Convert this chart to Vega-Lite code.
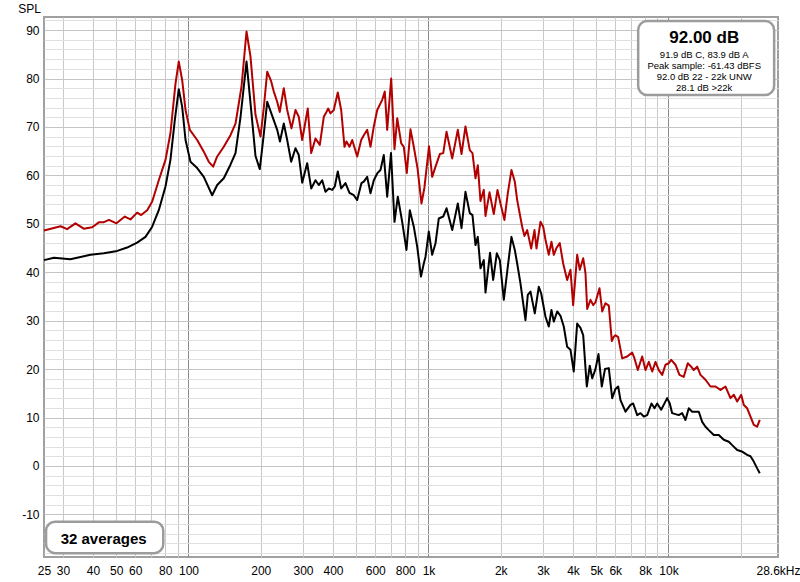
{
"$schema": "https://vega.github.io/schema/vega-lite/v6.json",
"width": 734, "height": 540,
"autosize": {"type": "none"},
"padding": {"left": 44, "top": 17, "right": 22, "bottom": 25},
"background": "white",
"config": {"view": {"stroke": "#a0a0a0", "strokeWidth": 2}, "font": "Liberation Sans"},
"datasets": {
"red": [
{"f":25,"spl":48.6},{"f":29.3,"spl":49.5},{"f":31.2,"spl":48.9},{"f":33.8,"spl":50.1},{"f":36.6,"spl":49.0},{"f":39.7,"spl":49.3},{"f":42.3,"spl":50.3},{"f":44.2,"spl":50.3},{"f":46.6,"spl":50.8},{"f":50.1,"spl":50.1},{"f":54.3,"spl":51.5},{"f":57.3,"spl":50.9},{"f":61.1,"spl":52.3},{"f":63.5,"spl":51.8},{"f":67.3,"spl":52.8},{"f":70.6,"spl":54.6},{"f":75.2,"spl":59.0},{"f":80.2,"spl":63.2},{"f":84.1,"spl":68.7},{"f":88.3,"spl":79.0},{"f":91.1,"spl":83.5},{"f":94.1,"spl":79.7},{"f":97.2,"spl":73.5},{"f":101.3,"spl":69.4},{"f":108.7,"spl":67.3},{"f":115.8,"spl":64.9},{"f":121.5,"spl":62.8},{"f":126.7,"spl":61.8},{"f":131.7,"spl":63.9},{"f":140.3,"spl":65.9},{"f":149.6,"spl":68.3},{"f":157.0,"spl":70.7},{"f":166.3,"spl":78.3},{"f":174.5,"spl":89.7},{"f":181.3,"spl":84.5},{"f":190.2,"spl":72.5},{"f":199.5,"spl":68.0},{"f":206.0,"spl":74.0},{"f":212.8,"spl":81.4},{"f":221.1,"spl":79.4},{"f":226.7,"spl":77.3},{"f":234.2,"spl":75.2},{"f":240.1,"spl":73.1},{"f":249.5,"spl":78.0},{"f":257.8,"spl":73.5},{"f":268.6,"spl":69.7},{"f":279.1,"spl":73.5},{"f":288.1,"spl":72.1},{"f":297.7,"spl":67.3},{"f":314.1,"spl":73.8},{"f":324.6,"spl":64.6},{"f":338.2,"spl":67.6},{"f":352.5,"spl":66.3},{"f":366.3,"spl":72.1},{"f":375.8,"spl":73.1},{"f":382.0,"spl":73.8},{"f":390.5,"spl":72.8},{"f":403.1,"spl":73.5},{"f":418.9,"spl":77.1},{"f":432.8,"spl":73.5},{"f":446.7,"spl":65.9},{"f":455.3,"spl":67.0},{"f":468.6,"spl":65.9},{"f":481.0,"spl":67.3},{"f":504.6,"spl":63.9},{"f":524.4,"spl":67.3},{"f":537.6,"spl":68.3},{"f":555.5,"spl":69.4},{"f":573.3,"spl":65.9},{"f":591.8,"spl":70.1},{"f":611.5,"spl":73.5},{"f":641.5,"spl":75.6},{"f":657.6,"spl":77.3},{"f":672.9,"spl":69.4},{"f":699.3,"spl":80.0},{"f":721.8,"spl":65.4},{"f":740.8,"spl":71.8},{"f":769.8,"spl":66.6},{"f":789.2,"spl":65.9},{"f":812.3,"spl":60.5},{"f":841.4,"spl":69.5},{"f":868.5,"spl":65.9},{"f":900,"spl":61.5},{"f":935,"spl":54.2},{"f":962,"spl":57.5},{"f":1005,"spl":66.0},{"f":1036,"spl":59.7},{"f":1070,"spl":61.8},{"f":1115,"spl":64.4},{"f":1152,"spl":64.6},{"f":1189,"spl":69.0},{"f":1256,"spl":63.5},{"f":1325,"spl":69.4},{"f":1373,"spl":64.4},{"f":1426,"spl":70.1},{"f":1486,"spl":65.2},{"f":1525,"spl":64.6},{"f":1570,"spl":59.4},{"f":1605,"spl":62.1},{"f":1647,"spl":54.7},{"f":1700,"spl":57.0},{"f":1728,"spl":51.6},{"f":1796,"spl":56.5},{"f":1871,"spl":52.0},{"f":1939,"spl":57.0},{"f":1995,"spl":54.2},{"f":2073,"spl":50.8},{"f":2140,"spl":56.3},{"f":2217,"spl":61.1},{"f":2289,"spl":58.7},{"f":2342,"spl":54.9},{"f":2457,"spl":49.4},{"f":2512,"spl":47.5},{"f":2578,"spl":48.7},{"f":2679,"spl":44.9},{"f":2765,"spl":48.7},{"f":2818,"spl":44.9},{"f":2929,"spl":50.4},{"f":3006,"spl":49.4},{"f":3073,"spl":46.7},{"f":3171,"spl":43.6},{"f":3254,"spl":46.3},{"f":3327,"spl":43.6},{"f":3414,"spl":45.0},{"f":3524,"spl":46.0},{"f":3641,"spl":41.8},{"f":3783,"spl":38.4},{"f":3905,"spl":40.5},{"f":4007,"spl":33.2},{"f":4164,"spl":43.6},{"f":4270,"spl":40.5},{"f":4412,"spl":42.9},{"f":4510,"spl":39.8},{"f":4585,"spl":32.4},{"f":4732,"spl":34.3},{"f":4857,"spl":33.2},{"f":4964,"spl":33.8},{"f":5158,"spl":36.7},{"f":5295,"spl":31.9},{"f":5465,"spl":33.6},{"f":5641,"spl":33.1},{"f":5805,"spl":25.8},{"f":5918,"spl":26.7},{"f":6015,"spl":27.0},{"f":6172,"spl":26.6},{"f":6415,"spl":22.2},{"f":6730,"spl":22.6},{"f":7062,"spl":23.4},{"f":7218,"spl":22.2},{"f":7450,"spl":19.8},{"f":7770,"spl":22.6},{"f":8021,"spl":19.8},{"f":8280,"spl":21.5},{"f":8555,"spl":19.5},{"f":8830,"spl":21.5},{"f":9114,"spl":19.8},{"f":9414,"spl":18.8},{"f":9716,"spl":20.9},{"f":10030,"spl":21.2},{"f":10264,"spl":21.9},{"f":10694,"spl":20.9},{"f":11112,"spl":18.8},{"f":11580,"spl":18.4},{"f":12034,"spl":21.2},{"f":12434,"spl":20.5},{"f":12747,"spl":19.8},{"f":13170,"spl":20.5},{"f":13594,"spl":18.8},{"f":14264,"spl":17.8},{"f":14962,"spl":16.4},{"f":15697,"spl":16.4},{"f":16470,"spl":15.7},{"f":17280,"spl":16.4},{"f":18130,"spl":14.0},{"f":18714,"spl":14.7},{"f":19336,"spl":13.3},{"f":20090,"spl":14.7},{"f":20600,"spl":12.6},{"f":21280,"spl":11.9},{"f":21966,"spl":10.2},{"f":22670,"spl":8.5},{"f":23420,"spl":8.1},{"f":24010,"spl":9.5}
],
"black": [
{"f":25,"spl":42.5},{"f":27.5,"spl":43.0},{"f":32.2,"spl":42.7},{"f":39.05,"spl":43.6},{"f":44.4,"spl":43.9},{"f":50.5,"spl":44.4},{"f":55.5,"spl":45.1},{"f":61.1,"spl":46.1},{"f":66.2,"spl":47.3},{"f":70.6,"spl":49.4},{"f":75.2,"spl":52.8},{"f":80.2,"spl":57.7},{"f":84.1,"spl":63.2},{"f":87.7,"spl":71.4},{"f":91.1,"spl":77.8},{"f":94.1,"spl":74.2},{"f":97.2,"spl":67.3},{"f":101.9,"spl":62.8},{"f":108.7,"spl":61.5},{"f":115.8,"spl":59.7},{"f":125.5,"spl":55.9},{"f":131.7,"spl":58.0},{"f":140.3,"spl":59.4},{"f":149.6,"spl":62.2},{"f":157.0,"spl":64.6},{"f":164.7,"spl":72.0},{"f":174.5,"spl":83.5},{"f":181.3,"spl":74.9},{"f":190.2,"spl":64.0},{"f":198.2,"spl":61.3},{"f":205.4,"spl":68.0},{"f":212.8,"spl":75.2},{"f":223.3,"spl":72.3},{"f":234.2,"spl":69.4},{"f":240.5,"spl":67.0},{"f":249.5,"spl":70.7},{"f":257.8,"spl":67.3},{"f":267.9,"spl":62.8},{"f":279.1,"spl":65.6},{"f":288.1,"spl":64.2},{"f":297.7,"spl":58.5},{"f":312.3,"spl":62.5},{"f":324.6,"spl":57.3},{"f":338.2,"spl":59.0},{"f":349.1,"spl":58.0},{"f":360.7,"spl":59.0},{"f":372.2,"spl":56.6},{"f":384.2,"spl":57.3},{"f":396.9,"spl":57.0},{"f":407.0,"spl":57.7},{"f":418.9,"spl":60.8},{"f":432.8,"spl":57.3},{"f":451.0,"spl":58.4},{"f":468.6,"spl":56.4},{"f":488.5,"spl":55.9},{"f":504.6,"spl":54.9},{"f":525.8,"spl":58.4},{"f":537.6,"spl":58.7},{"f":555.5,"spl":59.7},{"f":573.3,"spl":56.3},{"f":591.8,"spl":59.0},{"f":611.5,"spl":60.4},{"f":631.0,"spl":61.1},{"f":651.3,"spl":64.2},{"f":672.9,"spl":55.6},{"f":698.0,"spl":64.6},{"f":721.8,"spl":50.4},{"f":745.0,"spl":55.6},{"f":777.0,"spl":50.4},{"f":809.5,"spl":44.6},{"f":836,"spl":52.8},{"f":868.5,"spl":49.4},{"f":897.4,"spl":45.3},{"f":930.5,"spl":39.1},{"f":956,"spl":41.8},{"f":972,"spl":43.2},{"f":1003,"spl":48.4},{"f":1036,"spl":43.6},{"f":1070,"spl":46.0},{"f":1104,"spl":51.1},{"f":1152,"spl":51.5},{"f":1189,"spl":53.2},{"f":1256,"spl":48.7},{"f":1325,"spl":54.2},{"f":1373,"spl":49.1},{"f":1426,"spl":56.6},{"f":1486,"spl":52.2},{"f":1525,"spl":51.8},{"f":1570,"spl":45.6},{"f":1605,"spl":47.3},{"f":1647,"spl":40.8},{"f":1700,"spl":42.5},{"f":1728,"spl":35.8},{"f":1805,"spl":44.0},{"f":1860,"spl":38.4},{"f":1926,"spl":43.9},{"f":1983,"spl":42.5},{"f":2060,"spl":34.3},{"f":2140,"spl":41.1},{"f":2217,"spl":47.3},{"f":2289,"spl":44.6},{"f":2342,"spl":41.8},{"f":2417,"spl":37.7},{"f":2536,"spl":30.1},{"f":2593,"spl":35.3},{"f":2661,"spl":36.0},{"f":2773,"spl":31.5},{"f":2882,"spl":37.0},{"f":2949,"spl":35.6},{"f":3073,"spl":30.8},{"f":3171,"spl":28.8},{"f":3254,"spl":32.2},{"f":3327,"spl":29.8},{"f":3438,"spl":31.9},{"f":3548,"spl":31.0},{"f":3662,"spl":28.8},{"f":3783,"spl":24.6},{"f":3905,"spl":24.0},{"f":4030,"spl":19.5},{"f":4164,"spl":29.4},{"f":4298,"spl":28.5},{"f":4412,"spl":27.0},{"f":4567,"spl":16.4},{"f":4700,"spl":20.7},{"f":4810,"spl":18.1},{"f":4964,"spl":20.0},{"f":5109,"spl":23.1},{"f":5274,"spl":16.4},{"f":5438,"spl":20.0},{"f":5641,"spl":20.2},{"f":5827,"spl":14.0},{"f":6015,"spl":15.9},{"f":6172,"spl":16.4},{"f":6310,"spl":13.6},{"f":6620,"spl":11.2},{"f":6946,"spl":12.6},{"f":7127,"spl":12.9},{"f":7406,"spl":10.5},{"f":7643,"spl":10.9},{"f":7890,"spl":10.2},{"f":8153,"spl":10.5},{"f":8497,"spl":12.9},{"f":8745,"spl":11.9},{"f":8974,"spl":12.9},{"f":9324,"spl":11.6},{"f":9876,"spl":14.0},{"f":10125,"spl":12.9},{"f":10361,"spl":10.9},{"f":11036,"spl":10.5},{"f":11404,"spl":10.9},{"f":11770,"spl":9.5},{"f":12150,"spl":11.9},{"f":12555,"spl":11.2},{"f":12960,"spl":11.2},{"f":13377,"spl":11.2},{"f":13818,"spl":9.1},{"f":14264,"spl":8.1},{"f":14720,"spl":7.4},{"f":15446,"spl":6.4},{"f":16204,"spl":6.4},{"f":17000,"spl":5.4},{"f":17840,"spl":5.0},{"f":18424,"spl":4.3},{"f":19336,"spl":3.3},{"f":20206,"spl":3.0},{"f":21280,"spl":2.3},{"f":21966,"spl":2.0},{"f":22670,"spl":0.9},{"f":23420,"spl":-0.5},{"f":24010,"spl":-1.5}
]
},
"layer": [
{
"data": {"name": "red"},
"mark": {"type": "line", "strokeWidth": 2, "color": "#b30000", "strokeJoin": "round"},
"encoding": {
"x": {"field": "f", "type": "quantitative",
 "scale": {"type": "log", "domain": [25, 28600], "nice": false},
 "axis": {
  "values": [25,30,40,50,60,70,80,90,100,200,300,400,500,600,700,800,900,1000,2000,3000,4000,5000,6000,7000,8000,9000,10000,20000,28600],
  "tickCount": 200,
  "title": null, "domain": false, "ticks": false, "tickSize": 0,
  "labelPadding": 8, "labelFontSize": 12, "labelColor": "#000000", "labelFont": "Liberation Sans",
  "labelOverlap": false, "labelFlush": false, "labelBound": false,
  "labelExpr": "datum.value == 28600 ? '28.6kHz' : (indexof([70,90,500,700,900,7000,9000,20000], datum.value) >= 0 ? '' : (datum.value >= 1000 ? (datum.value/1000) + 'k' : '' + datum.value))",
  "grid": true, "gridWidth": 1,
  "gridColor": {"condition": {"test": "datum.value == 100 || datum.value == 1000 || datum.value == 10000", "value": "#8a8a8a"}, "value": "#c8c8c8"},
  "gridOpacity": {"condition": {"test": "datum.value == 25 || datum.value == 28600", "value": 0}, "value": 1}
 }},
"y": {"field": "spl", "type": "quantitative",
 "scale": {"domain": [-18.8, 92.7], "nice": false, "zero": false},
 "axis": {
  "values": [-18,-16,-14,-12,-10,-8,-6,-4,-2,0,2,4,6,8,10,12,14,16,18,20,22,24,26,28,30,32,34,36,38,40,42,44,46,48,50,52,54,56,58,60,62,64,66,68,70,72,74,76,78,80,82,84,86,88,90,92],
  "tickCount": 200,
  "title": "SPL", "titleAngle": 0, "titleX": -15, "titleY": -9, "titleAlign": "center", "titleBaseline": "middle",
  "titleFontWeight": "normal", "titleFontSize": 12, "titleColor": "#000000", "titleFont": "Liberation Sans",
  "domain": false, "ticks": false, "tickSize": 0,
  "labelPadding": 5, "labelFontSize": 12, "labelColor": "#000000", "labelFont": "Liberation Sans",
  "labelOverlap": false, "labelBound": false, "labelFlush": false,
  "labelExpr": "datum.value % 10 == 0 ? '' + datum.value : ''",
  "grid": true, "gridWidth": 1,
  "gridColor": {"condition": {"test": "datum.value % 10 == 0", "value": "#c4c4c4"}, "value": "#e0e0e0"}
 }}
}
},
{
"data": {"name": "black"},
"mark": {"type": "line", "strokeWidth": 2, "color": "#000000", "strokeJoin": "round"},
"encoding": {
"x": {"field": "f", "type": "quantitative"},
"y": {"field": "spl", "type": "quantitative"}
}
},
{
"data": {"values": [{}]},
"mark": {"type": "rect", "fill": "white", "stroke": "#9c9c9c", "strokeWidth": 2.5, "cornerRadius": 9},
"encoding": {"x": {"datum": 7478}, "x2": {"datum": 27560}, "y": {"datum": 91.87}, "y2": {"datum": 76.6}}
},
{
"data": {"values": [{}]},
"mark": {"type": "text", "text": "92.00 dB", "fontSize": 17, "fontWeight": "bold", "align": "center", "baseline": "middle", "color": "#000000", "font": "Liberation Sans"},
"encoding": {"x": {"datum": 14090}, "y": {"datum": 88.4}}
},
{
"data": {"values": [{}]},
"mark": {"type": "text", "text": ["91.9 dB C, 83.9 dB A", "Peak sample: -61.43 dBFS", "92.0 dB 22 - 22k UNW", "28.1 dB >22k"], "fontSize": 9.5, "lineHeight": 11, "align": "center", "baseline": "middle", "color": "#000000", "font": "Liberation Sans"},
"encoding": {"x": {"datum": 14090}, "y": {"datum": 84.8}}
},
{
"data": {"values": [{}]},
"mark": {"type": "rect", "fill": "white", "stroke": "#9c9c9c", "strokeWidth": 2.5, "cornerRadius": 9},
"encoding": {"x": {"datum": 25.5}, "x2": {"datum": 78.5}, "y": {"datum": -11.5}, "y2": {"datum": -18.0}}
},
{
"data": {"values": [{}]},
"mark": {"type": "text", "text": "32 averages", "fontSize": 15, "fontWeight": "bold", "align": "center", "baseline": "middle", "color": "#000000", "font": "Liberation Sans"},
"encoding": {"x": {"datum": 44.3}, "y": {"datum": -15.07}}
}
]
}
